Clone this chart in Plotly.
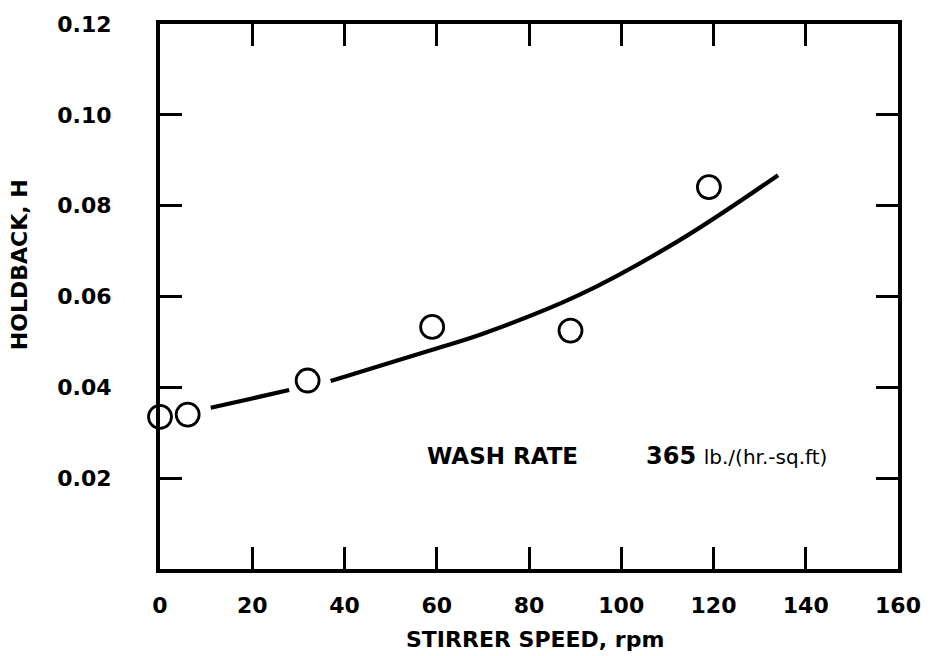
import plotly.graph_objects as go

# Measured holdback versus stirrer speed
speed_rpm = [0, 6, 32, 59, 89, 119]
holdback = [0.0335, 0.034, 0.0415, 0.0533, 0.0525, 0.0841]

# Smooth correlating curve; it is broken where it passes the 32 rpm point
curve_rpm = [11, 28, None, 37, 58.5, 70, 91, 112.5, 134]
curve_h = [0.0355, 0.0394, None, 0.0414, 0.0481, 0.0518, 0.0604, 0.0723, 0.0867]

x_ticks = [0, 20, 40, 60, 80, 100, 120, 140, 160]
x_ticktext = ["0", "20", "40", "60", "80", "100", "120", "140", "160"]
y_ticks = [0.02, 0.04, 0.06, 0.08, 0.10, 0.12]
y_ticktext = ["0.02", "0.04", "0.06", "0.08", "0.10", "0.12"]

FONT = "DejaVu Sans"
INK = "black"

fig = go.Figure()

fig.add_trace(go.Scatter(
    x=curve_rpm, y=curve_h, mode="lines", connectgaps=False,
    line=dict(color=INK, width=4.2, shape="spline", smoothing=1.0),
    hoverinfo="skip", showlegend=False,
))

fig.add_trace(go.Scatter(
    x=speed_rpm, y=holdback, mode="markers",
    marker=dict(size=23, color="rgba(255,255,255,0)", symbol="circle",
                line=dict(width=2.8, color=INK)),
    showlegend=False, cliponaxis=False,
))

axis_common = dict(
    showline=True, linewidth=4, linecolor=INK, mirror="ticks",
    ticks="inside", ticklen=22, tickwidth=2.5, tickcolor=INK,
    showgrid=False, zeroline=False,
    tickfont=dict(family=FONT, size=22, color=INK, weight=700),
)

fig.update_xaxes(
    range=[0, 160], tickvals=x_ticks, ticktext=x_ticktext,
    ticklabelstandoff=14, **axis_common,
)
fig.update_yaxes(
    range=[0, 0.12], tickvals=y_ticks, ticktext=y_ticktext,
    ticklabelstandoff=40, **axis_common,
)

fig.add_annotation(
    text="STIRRER SPEED, rpm", xref="paper", yref="paper",
    x=0.508, y=-0.129, xanchor="center", yanchor="middle", showarrow=False,
    font=dict(family=FONT, size=22, color=INK, weight=700),
)
fig.add_annotation(
    text="HOLDBACK, H", xref="paper", yref="paper", textangle=-90,
    x=-0.19, y=0.559, xanchor="center", yanchor="middle", showarrow=False,
    font=dict(family=FONT, size=22, color=INK, weight=700),
)
fig.add_annotation(
    text="WASH RATE", x=57.5, y=0.0248, xanchor="left", yanchor="middle",
    showarrow=False, font=dict(family=FONT, size=23, color=INK, weight=700),
)
fig.add_annotation(
    text="<b>365</b> <span style='font-size:20px'>lb./(hr.-sq.ft)</span>",
    x=105.0, y=0.0248, xanchor="left", yanchor="middle",
    showarrow=False, font=dict(family=FONT, size=24, color=INK),
)

fig.update_layout(
    width=940, height=656,
    margin=dict(l=160, r=42, t=18, b=87),
    paper_bgcolor="white", plot_bgcolor="white",
)

fig.write_html("out.html")
